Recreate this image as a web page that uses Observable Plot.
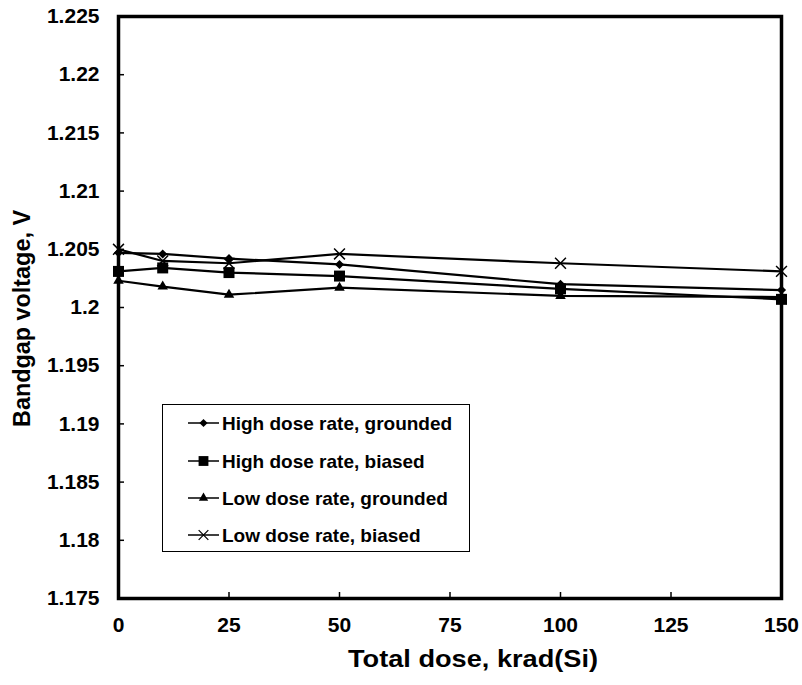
<!DOCTYPE html>
<html>
<head>
<meta charset="utf-8">
<script src="https://cdn.jsdelivr.net/npm/d3@7"></script>
<script src="https://cdn.jsdelivr.net/npm/@observablehq/plot@0.6"></script>
<style>
  html, body { margin: 0; padding: 0; background: #fff; }
  #wrap { position: relative; width: 802px; height: 685px; font-family: "Liberation Sans", Arial, sans-serif; }
  #legend { position: absolute; left: 162px; top: 404px; width: 306px; height: 146px; border: 1.5px solid #000; background: #fff; }
</style>
</head>
<body>
<div id="wrap"><div id="legend"></div></div>
<script>
const doses = [0, 10, 25, 50, 100, 150];
const seriesNames = ["High dose rate, grounded", "High dose rate, biased", "Low dose rate, grounded", "Low dose rate, biased"];
const hdrGrounded = [1.2047, 1.2046, 1.2042, 1.2037, 1.2020, 1.2015];
const hdrBiased   = [1.2031, 1.2034, 1.2030, 1.2027, 1.2016, 1.2007];
const ldrGrounded = [1.2023, 1.2018, 1.2011, 1.2017, 1.2010, 1.2009];
const ldrBiased   = [1.2050, 1.2040, 1.2038, 1.2046, 1.2038, 1.2031];
const xTicks = [0, 25, 50, 75, 100, 125, 150];
const yTicks = [1.175, 1.18, 1.185, 1.19, 1.195, 1.2, 1.205, 1.21, 1.215, 1.22, 1.225];

const seriesValues = [hdrGrounded, hdrBiased, ldrGrounded, ldrBiased];
const styles = [
  {symbol: "diamond2", r: 4.1, fill: "black", stroke: "none"},
  {symbol: "square", r: 6.2, fill: "black", stroke: "none"},
  {symbol: "triangle", r: 3.9, fill: "black", stroke: "none"},
  {symbol: "times", r: 5.0, fill: "none", stroke: "black"}
];
const data = seriesNames.flatMap((s, i) => doses.map((d, j) => ({series: s, dose: d, v: seriesValues[i][j]})));

const fmt = d => String(+d.toFixed(3));

const plot = Plot.plot({
  width: 802, height: 685,
  marginLeft: 118, marginRight: 21, marginTop: 16, marginBottom: 87,
  style: {fontFamily: "'Liberation Sans', Arial, sans-serif", fontWeight: "bold", fontSize: "21px", color: "black", background: "white"},
  x: {domain: [0, 150], ticks: xTicks, label: null},
  y: {domain: [1.175, 1.225], ticks: yTicks, label: null},
  marks: [
    Plot.axisX({ticks: xTicks, tickSize: 0, tickPadding: 19, tickFormat: d => String(d), label: null}),
    Plot.axisX({ticks: xTicks, tickSize: 6, dy: -6, text: null, label: null, strokeWidth: 1.5}),
    Plot.axisY({ticks: yTicks, tickSize: 0, tickPadding: 19, tickFormat: fmt, label: null}),
    Plot.axisY({ticks: yTicks, tickSize: 6, dx: 6, text: null, label: null, strokeWidth: 1.5}),
    Plot.line(data, {x: "dose", y: "v", z: "series", stroke: "black", strokeWidth: 2.2}),
    ...seriesNames.map((s, i) => Plot.dot(data.filter(d => d.series === s), {
      x: "dose", y: "v", symbol: styles[i].symbol, r: styles[i].r,
      fill: styles[i].fill, stroke: styles[i].stroke, strokeWidth: 1.5
    })),
    Plot.frame({stroke: "black", strokeWidth: 3.5}),
    Plot.text(["Total dose, krad(Si)"], {frameAnchor: "bottom", textAnchor: "middle", dx: 23, dy: 68, fontSize: 24, fontWeight: "bold", className: "xlab"}),
    Plot.text(["Bandgap voltage, V"], {frameAnchor: "left", textAnchor: "middle", dx: -96, dy: 11, rotate: -90, fontSize: 23, fontWeight: "bold", className: "ylab"})
  ]
});
document.getElementById("wrap").prepend(plot);
d3.select(plot).selectAll(".xlab text").attr("textLength", 250).attr("lengthAdjust", "spacingAndGlyphs");
d3.select(plot).selectAll(".ylab text").attr("textLength", 217).attr("lengthAdjust", "spacingAndGlyphs");

// Legend
const symMap = {diamond2: d3.symbolDiamond2, square: d3.symbolSquare, triangle: d3.symbolTriangle, times: d3.symbolTimes};
const lsvg = d3.select("#legend").append("svg").attr("width", 306).attr("height", 146)
  .style("font-family", "'Liberation Sans', Arial, sans-serif").style("font-weight", "bold").style("font-size", "19px");
const rowY = [18, 56, 93, 130];
seriesNames.forEach((s, i) => {
  const g = lsvg.append("g").attr("transform", `translate(0,${rowY[i]})`);
  g.append("line").attr("x1", 25).attr("x2", 56).attr("y1", 0).attr("y2", 0).attr("stroke", "black").attr("stroke-width", 1.5);
  g.append("path").attr("transform", "translate(40.5,0)")
    .attr("d", d3.symbol(symMap[styles[i].symbol], Math.PI * styles[i].r * styles[i].r * 0.8)())
    .attr("fill", styles[i].fill).attr("stroke", styles[i].stroke).attr("stroke-width", 1.2);
  g.append("text").attr("x", 59).attr("y", 0).attr("dy", "0.35em").text(s);
});
</script>
</body>
</html>
